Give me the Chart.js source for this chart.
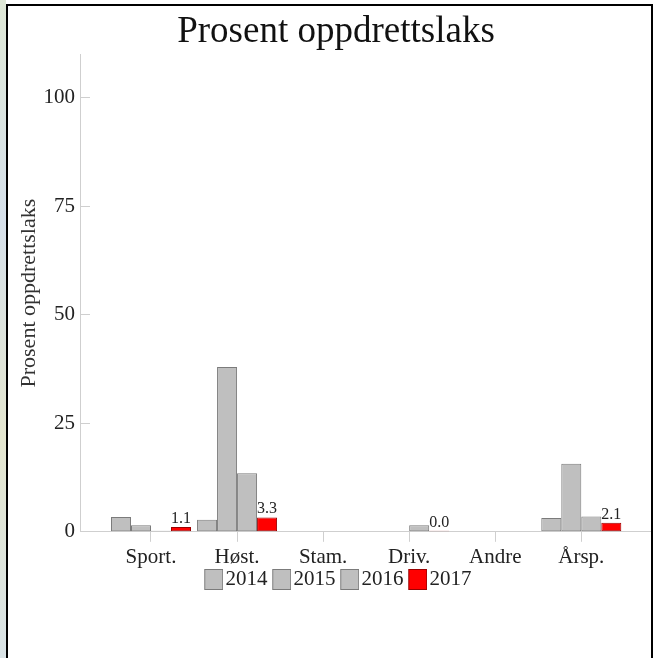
<!DOCTYPE html>
<html>
<head>
<meta charset="utf-8">
<script src="https://cdn.jsdelivr.net/npm/chart.js@4"></script>
<style>
    body { margin: 0; background: #fff; }
    #strip { position: absolute; left: 0; top: 0; width: 6px; height: 658px;
             background: linear-gradient(#dfe8d6, #d6e0ea, #e4e6cf, #d9e3e6); }
    #frame { position: absolute; left: 6px; top: 4px; width: 643px; height: 660px;
             border-left: 2px solid #000; border-top: 2px solid #000; border-right: 2px solid #000; }
    #box { position: absolute; left: 0; top: 0; width: 643px; height: 604px; }
</style>
</head>
<body>
<div id="strip"></div>
<div id="frame"><div id="box"><canvas id="myChart"></canvas></div></div>
<script>
// Categories and series (percent farmed salmon)
const categories = ['Sport.', 'Høst.', 'Stam.', 'Driv.', 'Andre', 'Årsp.'];
const years = ['2014', '2015', '2016', '2017'];
const v2014 = [3.4, 2.8, null, null, null, 3.2];
const v2015 = [1.5, 38.0, null, null, null, 15.7];
const v2016 = [0, 13.5, null, 1.5, null, 3.5];
const v2017 = [1.1, 3.3, null, 0.0, null, 2.1];
const yTicks = [0, 25, 50, 75, 100];

const serif = "'Liberation Serif', 'Times New Roman', serif";
const grayFill = '#bfbfbf', grayLine = '#7b7b7b';
const redFill = '#ff0000', redLine = '#9a0000';

// x positions 1..n on a linear scale so the axis can run past the first/last group
function toPoints(values) {
    return values.map((v, i) => ({ x: i + 1, y: v }));
}

function bars(label, values, fill, line) {
    return {
        label: label,
        data: toPoints(values),
        backgroundColor: fill,
        borderColor: line,
        borderWidth: 1,
        borderSkipped: false,
        minBarLength: 1
    };
}

// legend swatch: box sits at the right of a wider transparent canvas,
// so it ends up close to the label text
function swatch(fill, line) {
    const c = document.createElement('canvas');
    c.width = 31; c.height = 21;
    const g = c.getContext('2d');
    g.fillStyle = fill;
    g.fillRect(12, 0, 19, 21);
    g.strokeStyle = line;
    g.lineWidth = 1;
    g.strokeRect(12.5, 0.5, 18, 20);
    return c;
}

// Value labels above the 2017 bars
const valueLabels = {
    id: 'valueLabels',
    afterDatasetsDraw(chart) {
        const ctx = chart.ctx;
        const meta = chart.getDatasetMeta(3);
        ctx.save();
        ctx.font = '16px ' + serif;
        ctx.fillStyle = '#222';
        ctx.textAlign = 'center';
        ctx.textBaseline = 'alphabetic';
        meta.data.forEach((bar, i) => {
            const v = v2017[i];
            if (v === null) return;
            ctx.fillText(v.toFixed(1), bar.x, bar.y - 4);
        });
        ctx.restore();
    }
};

const ctx = document.getElementById('myChart');
new Chart(ctx, {
    type: 'bar',
    data: {
        datasets: [
            bars(years[0], v2014, grayFill, grayLine),
            bars(years[1], v2015, grayFill, grayLine),
            bars(years[2], v2016, grayFill, grayLine),
            bars(years[3], v2017, redFill, redLine)
        ]
    },
    options: {
        responsive: true,
        maintainAspectRatio: false,
        animation: false,
        barPercentage: 1,
        categoryPercentage: 0.93,
        layout: { padding: { left: 13, right: 0, top: 0, bottom: 10 } },
        scales: {
            x: {
                type: 'linear',
                offset: false,
                min: 0.175,
                max: 6.81,
                afterBuildTicks: axis => {
                    axis.ticks = categories.map((c, i) => ({ value: i + 1 }));
                },
                afterFit: axis => { axis.height -= 5; },
                ticks: {
                    callback: v => categories[Math.round(v) - 1],
                    color: '#222',
                    padding: 3,
                    maxRotation: 0,
                    font: { family: serif, size: 21 }
                },
                grid: { offset: false, drawOnChartArea: false, tickLength: 10, color: '#cfcfcf' },
                border: { color: '#cfcfcf' }
            },
            y: {
                min: 0,
                max: 110,
                afterBuildTicks: axis => {
                    axis.ticks = yTicks.map(v => ({ value: v }));
                },
                afterFit: axis => { axis.width = 59; },
                ticks: {
                    color: '#222',
                    padding: 15,
                    font: { family: serif, size: 21 }
                },
                grid: { drawOnChartArea: false, tickLength: -10, color: '#cfcfcf' },
                border: { color: '#cfcfcf' },
                title: {
                    display: true,
                    text: 'Prosent oppdrettslaks',
                    color: '#333',
                    padding: { top: -5, bottom: 0 },
                    font: { family: serif, size: 22 }
                }
            }
        },
        plugins: {
            title: {
                display: true,
                text: 'Prosent oppdrettslaks',
                color: '#111',
                padding: { top: 4, bottom: 0 },
                font: { family: serif, size: 37, weight: 'normal' }
            },
            legend: {
                position: 'bottom',
                labels: {
                    usePointStyle: true,
                    pointStyleWidth: 14.5,
                    padding: 1,
                    color: '#222',
                    font: { family: serif, size: 21 },
                    generateLabels: chart => {
                        const items = Chart.defaults.plugins.legend.labels.generateLabels(chart);
                        items.forEach((item, i) => {
                            item.pointStyle = i === 3 ? swatch(redFill, redLine) : swatch(grayFill, grayLine);
                        });
                        return items;
                    }
                }
            },
            tooltip: { enabled: false }
        }
    },
    plugins: [valueLabels]
});
</script>
</body>
</html>
